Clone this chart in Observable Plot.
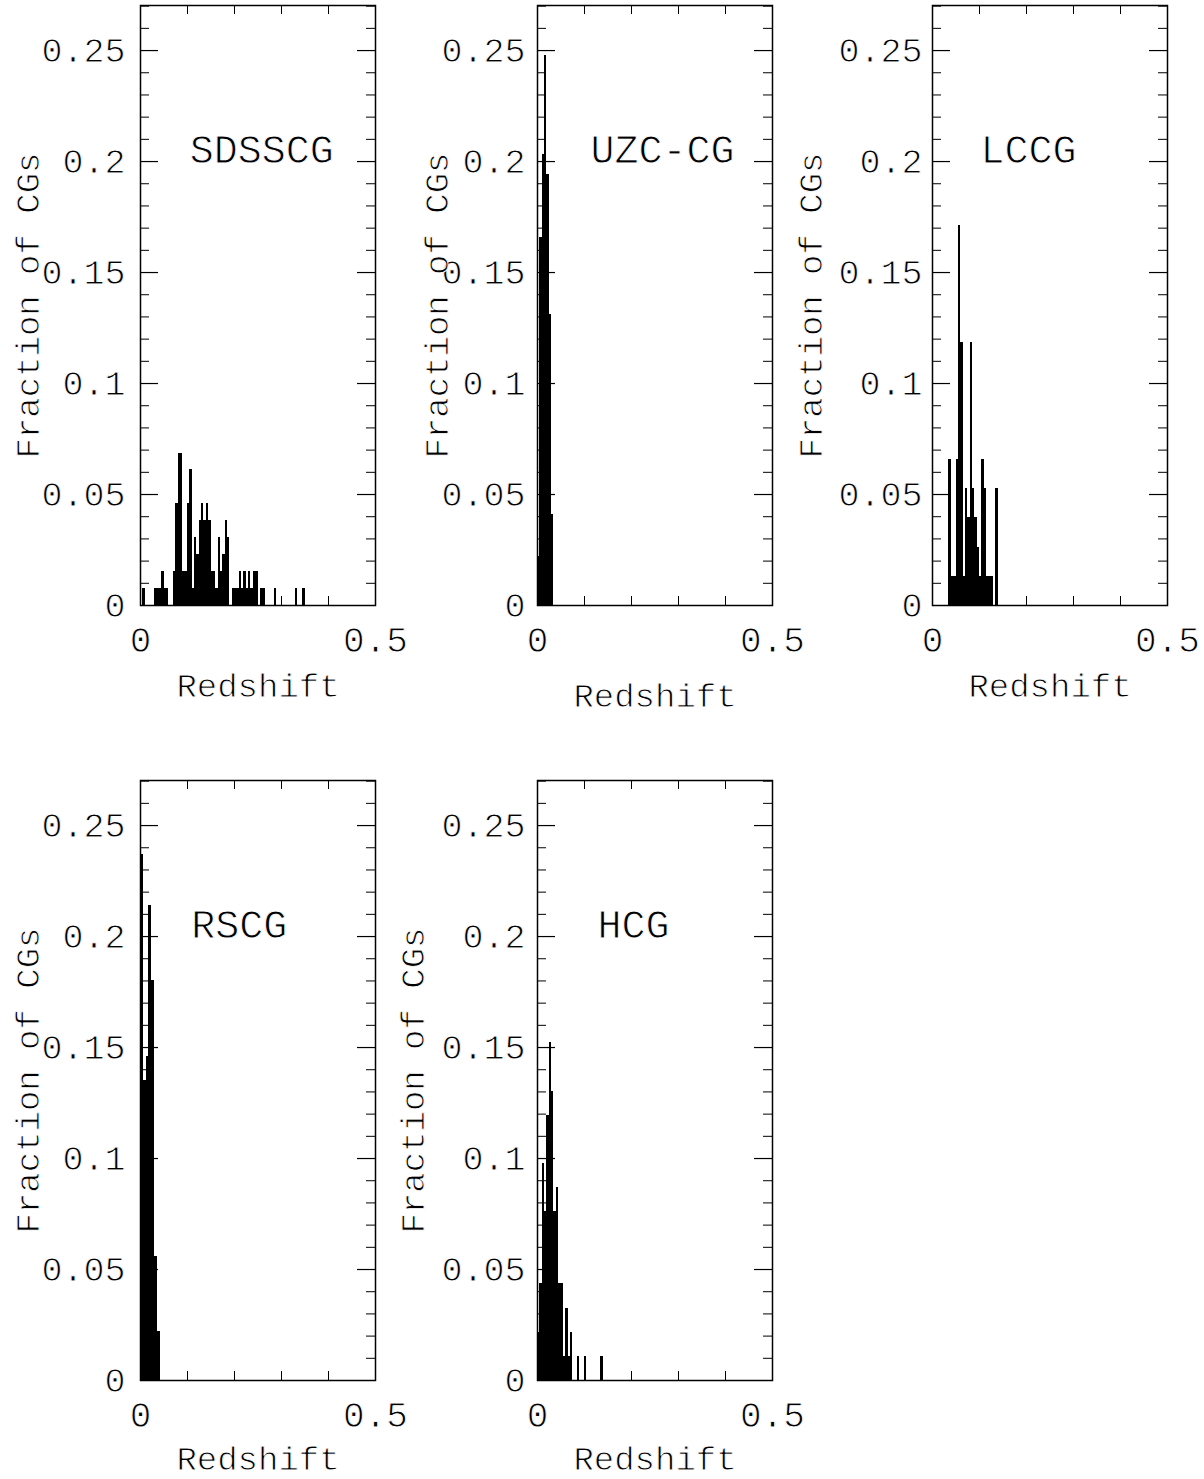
<!DOCTYPE html>
<html><head><meta charset="utf-8">
<script src="https://cdn.jsdelivr.net/npm/d3@7"></script>
<script src="https://cdn.jsdelivr.net/npm/@observablehq/plot@0.6"></script>
<style>
body{margin:0;background:#fff;}
#fig{position:relative;width:1204px;height:1479px;background:#fff;overflow:hidden;}
#fig svg{position:absolute;}
</style></head><body><div id="fig"></div>
<script>
// ---- axis text / tick values ----
const yTickValues = [0, 0.05, 0.1, 0.15, 0.2, 0.25];
const yTickLabels = ["0", "0.05", "0.1", "0.15", "0.2", "0.25"];
const xTickValues = [0, 0.5];
const xTickLabels = ["0", "0.5"];
const yMinorTicks = [0.01,0.02,0.03,0.04,0.06,0.07,0.08,0.09,0.11,0.12,0.13,0.14,0.16,0.17,0.18,0.19,0.21,0.22,0.23,0.24,0.26,0.27];
const yMajorTicks = [0.05, 0.1, 0.15, 0.2, 0.25];
const xMinorTicks = [0.1, 0.2, 0.3, 0.4];
const xLabel = "Redshift";
const yLabel = "Fraction of CGs";
const catalogNames = ["SDSSCG", "UZC-CG", "LCCG", "RSCG", "HCG"];
const binWidths = [0.005, 0.005, 0.005, 0.006, 0.005];

// ---- histogram data: bin left edge (redshift) and fraction of CGs ----
const sdsscgZ = [0.005,0.030,0.035,0.040,0.045,0.050,0.055,0.070,0.075,0.080,0.085,0.090,0.095,0.100,0.105,0.110,0.115,0.120,0.125,0.130,0.135,0.140,0.145,0.150,0.155,0.160,0.165,0.170,0.175,0.180,0.185,0.195,0.200,0.205,0.210,0.215,0.220,0.225,0.230,0.235,0.240,0.245,0.255,0.260,0.285,0.330,0.345];
const sdsscgFrac = [0.0076,0.0076,0.0076,0.0076,0.0153,0.0076,0.0076,0.0153,0.0458,0.0687,0.0687,0.0153,0.0153,0.0458,0.0611,0.0076,0.0305,0.0229,0.0382,0.0458,0.0382,0.0458,0.0382,0.0153,0.0153,0.0076,0.0305,0.0153,0.0229,0.0382,0.0305,0.0076,0.0076,0.0076,0.0153,0.0076,0.0153,0.0076,0.0153,0.0076,0.0153,0.0153,0.0076,0.0076,0.0076,0.0076,0.0076];

const uzcZ = [0.000,0.005,0.010,0.015,0.020,0.025,0.030];
const uzcFrac = [0.022,0.166,0.203,0.248,0.194,0.131,0.041];

const lccgZ = [0.035,0.040,0.045,0.050,0.055,0.060,0.065,0.070,0.075,0.080,0.085,0.090,0.095,0.100,0.105,0.110,0.115,0.120,0.125,0.135];
const lccgFrac = [0.0658,0.0132,0.0132,0.0658,0.1711,0.1184,0.0132,0.0526,0.0395,0.1184,0.0526,0.0395,0.0263,0.0132,0.0658,0.0526,0.0132,0.0132,0.0132,0.0526];

const rscgZ = [0.000,0.006,0.012,0.018,0.024,0.030,0.036];
const rscgFrac = [0.237,0.135,0.146,0.214,0.180,0.056,0.022];

const hcgZ = [0.000,0.005,0.010,0.015,0.020,0.025,0.030,0.035,0.040,0.045,0.050,0.055,0.060,0.065,0.070,0.085,0.100,0.135];
const hcgFrac = [0.0217,0.0435,0.0978,0.0761,0.1196,0.1522,0.1304,0.0761,0.0870,0.0435,0.0435,0.0109,0.0326,0.0109,0.0217,0.0109,0.0109,0.0109];

const seriesZ = [sdsscgZ, uzcZ, lccgZ, rscgZ, hcgZ];
const seriesFrac = [sdsscgFrac, uzcFrac, lccgFrac, rscgFrac, hcgFrac];

// ---- layout (page placement of each panel) ----
const layout = [
  {left: 0,   top: 0,   ylabDx: -112, tickDx: -15, xlabDy: 81, nameX: 0.258},
  {left: 397, top: 0,   ylabDx: -100, tickDx: -12, xlabDy: 91, nameX: 0.266},
  {left: 792, top: 0,   ylabDx: -121, tickDx: -10, xlabDy: 81, nameX: 0.204},
  {left: 0,   top: 775, ylabDx: -112, tickDx: -15, xlabDy: 79, nameX: 0.210},
  {left: 397, top: 775, ylabDx: -124, tickDx: -12, xlabDy: 79, nameX: 0.204}
];

const FW = 235, FH = 600;
const font = "'Liberation Mono', 'DejaVu Sans Mono', monospace";
// thin the glyphs a little with a white outline painted over the fill
const thin = {fill: "#000", stroke: "#fff", strokeWidth: 0.9, paintOrder: "normal"};

function panel(i) {
  const L = layout[i];
  const bins = seriesZ[i].map((z, k) => ({x1: z, x2: z + binWidths[i], f: seriesFrac[i][k]}));
  return Plot.plot({
    width: 400, height: 720,
    marginLeft: 140, marginRight: 25, marginTop: 5, marginBottom: 115,
    x: {domain: [0, 0.5], axis: null},
    y: {domain: [0, 0.2703], axis: null},
    style: {fontFamily: font, background: "transparent", color: "#000", overflow: "visible"},
    marks: [
      Plot.rect(bins, {x1: "x1", x2: "x2", y1: 0, y2: "f", fill: "#000", shapeRendering: "crispEdges"}),
      Plot.tickY(yMinorTicks, {y: d => d, insetRight: FW - 9, stroke: "#000", strokeWidth: 1}),
      Plot.tickY(yMinorTicks, {y: d => d, insetLeft: FW - 9, stroke: "#000", strokeWidth: 1}),
      Plot.tickY(yMajorTicks, {y: d => d, insetRight: FW - 18, stroke: "#000", strokeWidth: 1.2}),
      Plot.tickY(yMajorTicks, {y: d => d, insetLeft: FW - 18, stroke: "#000", strokeWidth: 1.2}),
      Plot.tickX(xMinorTicks, {x: d => d, insetTop: FH - 9, stroke: "#000", strokeWidth: 1}),
      Plot.tickX(xMinorTicks, {x: d => d, insetBottom: FH - 9, stroke: "#000", strokeWidth: 1}),
      Plot.frame({stroke: "#000", strokeWidth: 1.5}),
      Plot.text(yTickValues, {y: d => d, text: (d, k) => yTickLabels[k], frameAnchor: "left", dx: L.tickDx, textAnchor: "end", lineAnchor: "middle", fontSize: 35, ...thin}),
      Plot.text(xTickValues, {x: d => d, text: (d, k) => xTickLabels[k], frameAnchor: "bottom", dy: 35, textAnchor: "middle", lineAnchor: "middle", fontSize: 36, ...thin}),
      Plot.text([xLabel], {text: d => d, frameAnchor: "bottom", dy: L.xlabDy, textAnchor: "middle", lineAnchor: "middle", fontSize: 34, ...thin}),
      Plot.text([yLabel], {text: d => d, frameAnchor: "left", dx: L.ylabDx, rotate: -90, textAnchor: "middle", lineAnchor: "middle", fontSize: 34, ...thin}),
      Plot.text([catalogNames[i]], {text: d => d, x: L.nameX, y: 0.205, textAnchor: "middle", lineAnchor: "middle", fontSize: 40, ...thin})
    ]
  });
}

const fig = document.getElementById("fig");
for (let i = 0; i < 5; i++) {
  const svg = panel(i);
  svg.style.left = layout[i].left + "px";
  svg.style.top = layout[i].top + "px";
  fig.appendChild(svg);
}
</script></body></html>
